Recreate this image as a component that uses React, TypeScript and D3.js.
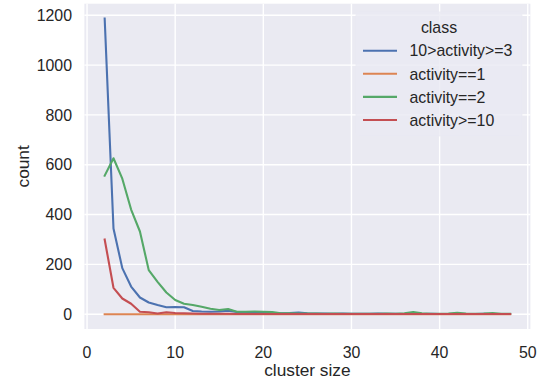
import React, { useRef, useEffect } from 'react';
import * as d3 from 'd3';

// cluster size on the x axis
const CLUSTER_SIZES = [
  2, 3, 4, 5, 6, 7, 8, 9, 10, 11, 12, 13, 14, 15, 16, 17, 18, 19, 20, 21, 22, 23, 24, 25,
  26, 27, 28, 29, 30, 31, 32, 33, 34, 35, 36, 37, 38, 39, 40, 41, 42, 43, 44, 45, 46, 47, 48
];

// counts per class
const ACTIVITY_3_TO_10 = [
  1187, 344, 185, 111, 67, 47, 37, 28, 29, 28, 13, 11, 10, 11, 14, 9, 8, 7, 6, 5, 4, 5, 7, 4,
  3, 3, 2, 3, 2, 2, 2, 3, 2, 2, 1, 2, 1, 2, 1, 1, 2, 1, 1, 2, 1, 1, 1
];
const ACTIVITY_1 = [
  0, 0, 0, 0, 0, 0, 0, 0, 0, 0, 0, 0, 0, 0, 0, 0, 0, 0, 0, 0, 0, 0, 0, 0,
  0, 0, 0, 0, 0, 0, 0, 0, 0, 0, 0, 0, 0, 0, 0, 0, 0, 0, 0, 0, 0, 0, 0
];
const ACTIVITY_2 = [
  556, 626, 544, 420, 332, 177, 130, 87, 57, 42, 37, 30, 22, 17, 21, 10, 10, 11, 10, 9, 4, 4, 3, 3,
  3, 2, 3, 2, 2, 2, 2, 2, 3, 2, 4, 9, 4, 2, 2, 3, 6, 3, 2, 3, 5, 2, 2
];
const ACTIVITY_10_PLUS = [
  300, 106, 63, 42, 10, 8, 3, 8, 5, 4, 3, 2, 2, 2, 2, 1, 1, 1, 1, 1, 1, 1, 1, 1,
  1, 1, 1, 1, 1, 1, 1, 1, 1, 1, 1, 1, 1, 1, 1, 1, 1, 1, 1, 1, 1, 1, 1
];

const CLASS_NAMES = ['10>activity>=3', 'activity==1', 'activity==2', 'activity>=10'];
const CLASS_VALUES = [ACTIVITY_3_TO_10, ACTIVITY_1, ACTIVITY_2, ACTIVITY_10_PLUS];

const X_TICKS = [0, 10, 20, 30, 40, 50];
const Y_TICKS = [0, 200, 400, 600, 800, 1000, 1200];

// seaborn "deep" palette
const COLORS = ['#4C72B0', '#DD8452', '#55A868', '#C44E52'];

const WIDTH = 545;
const HEIGHT = 381;
const FONT = '"Liberation Sans", Arial, sans-serif';
const TEXT_COLOR = '#262626';

const App: React.FC = () => {
  const svgRef = useRef<SVGSVGElement>(null);

  useEffect(() => {
    if (!svgRef.current) return;
    const svg = d3.select(svgRef.current);
    svg.selectAll('*').remove();

    // panel box
    const left = 84.4, right = 530.4, top = 3.7, bottom = 329;

    // matplotlib style 5% margins on the data range
    const [xMin, xMax] = d3.extent(CLUSTER_SIZES) as [number, number];
    const xPad = (xMax - xMin) * 0.05;
    const xScale = d3.scaleLinear().domain([xMin - xPad, xMax + xPad]).range([left, right]);

    const allValues = CLASS_VALUES.flat();
    const yMin = d3.min(allValues) as number;
    const yMax = d3.max(allValues) as number;
    const yPad = (yMax - yMin) * 0.05;
    const yScale = d3.scaleLinear().domain([yMin - yPad, yMax + yPad]).range([bottom, top]);

    // background
    svg.append('rect')
      .attr('x', left).attr('y', top)
      .attr('width', right - left).attr('height', bottom - top)
      .attr('fill', '#EAEAF2');

    // grid
    const grid = svg.append('g').attr('stroke', '#ffffff').attr('stroke-width', 1.4);
    X_TICKS.forEach(t => {
      grid.append('line')
        .attr('x1', xScale(t)).attr('x2', xScale(t))
        .attr('y1', top).attr('y2', bottom);
    });
    Y_TICKS.forEach(t => {
      grid.append('line')
        .attr('x1', left).attr('x2', right)
        .attr('y1', yScale(t)).attr('y2', yScale(t));
    });

    // tick labels
    svg.append('g')
      .selectAll('text')
      .data(X_TICKS)
      .join('text')
      .attr('x', d => xScale(d))
      .attr('y', 357.5)
      .attr('text-anchor', 'middle')
      .attr('font-family', FONT)
      .attr('font-size', 15.9)
      .attr('fill', TEXT_COLOR)
      .text(d => d);

    svg.append('g')
      .selectAll('text')
      .data(Y_TICKS)
      .join('text')
      .attr('x', 72)
      .attr('y', d => yScale(d) + 5.7)
      .attr('text-anchor', 'end')
      .attr('font-family', FONT)
      .attr('font-size', 15.9)
      .attr('fill', TEXT_COLOR)
      .text(d => d);

    // axis labels
    svg.append('text')
      .attr('x', (left + right) / 2)
      .attr('y', 376)
      .attr('text-anchor', 'middle')
      .attr('font-family', FONT)
      .attr('font-size', 17.3)
      .attr('fill', TEXT_COLOR)
      .text('cluster size');

    svg.append('text')
      .attr('transform', `translate(28.5,${(top + bottom) / 2}) rotate(-90)`)
      .attr('text-anchor', 'middle')
      .attr('font-family', FONT)
      .attr('font-size', 17.3)
      .attr('fill', TEXT_COLOR)
      .text('count');

    // lines, in hue order
    const line = d3.line<number>()
      .x((d, i) => xScale(CLUSTER_SIZES[i]))
      .y(d => yScale(d));

    CLASS_VALUES.forEach((values, i) => {
      svg.append('path')
        .datum(values)
        .attr('fill', 'none')
        .attr('stroke', COLORS[i])
        .attr('stroke-width', 2.1)
        .attr('stroke-linejoin', 'round')
        .attr('stroke-linecap', 'square')
        .attr('d', line);
    });

    // legend
    const legend = svg.append('g');
    legend.append('rect')
      .attr('x', 356).attr('y', 12)
      .attr('width', 166).attr('height', 124)
      .attr('rx', 3)
      .attr('fill', '#EAEAF2')
      .attr('fill-opacity', 0.8)
      .attr('stroke', '#EAEAF2')
      .attr('stroke-opacity', 0.8)
      .attr('stroke-width', 1);

    legend.append('text')
      .attr('x', 439)
      .attr('y', 32.5)
      .attr('text-anchor', 'middle')
      .attr('font-family', FONT)
      .attr('font-size', 15.9)
      .attr('fill', TEXT_COLOR)
      .text('class');

    CLASS_NAMES.forEach((name, i) => {
      const cy = 50.7 + i * 23.1;
      legend.append('line')
        .attr('x1', 363).attr('x2', 397)
        .attr('y1', cy).attr('y2', cy)
        .attr('stroke', COLORS[i])
        .attr('stroke-width', 2.1);
      legend.append('text')
        .attr('x', 409.5)
        .attr('y', cy + 5.7)
        .attr('font-family', FONT)
        .attr('font-size', 15.9)
        .attr('fill', TEXT_COLOR)
        .text(name);
    });
  }, []);

  return (
    <svg
      ref={svgRef}
      width={WIDTH}
      height={HEIGHT}
      style={{ position: 'absolute', left: 0, top: 0, background: '#ffffff' }}
    />
  );
};

export default App;
